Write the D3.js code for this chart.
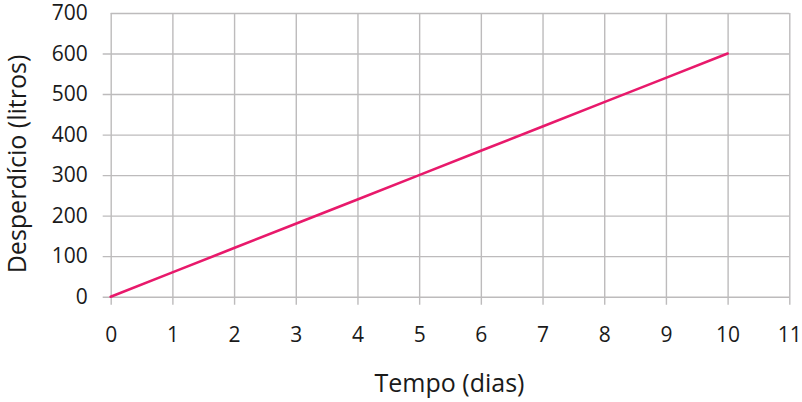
<!DOCTYPE html>
<html>
<head>
<meta charset="utf-8">
<script src="https://cdn.jsdelivr.net/npm/d3@7"></script>
<style>
  body { margin: 0; background: #fff; }
  svg { display: block; }
  text { font-family: "Open Sans", sans-serif; fill: #1a1a1a; }
</style>
</head>
<body>
<div id="chart"></div>
<script>
// data
const days = [0, 1, 2, 3, 4, 5, 6, 7, 8, 9, 10];
const waste = [0, 60, 120, 180, 240, 300, 360, 420, 480, 540, 600];
const xTicks = [0, 1, 2, 3, 4, 5, 6, 7, 8, 9, 10, 11];
const yTicks = [0, 100, 200, 300, 400, 500, 600, 700];
const xTitle = "Tempo (dias)";
const yTitle = "Desperdício (litros)";

const W = 802, H = 402;
const padL = 110.7, padR = 789.3, padT = 13, padB = 296.7;
const ext = 8; // grid lines poke out past the plot as ticks
const gridColor = "#bdbbbc";

const svg = d3.select("#chart").append("svg")
  .attr("width", W)
  .attr("height", H);

const x = d3.scaleLinear().domain([0, 11]).range([padL, padR]);
const y = d3.scaleLinear().domain([0, 700]).range([padB, padT]);

//Horizontal grid + y labels
const yAxis = svg.append("g")
  .attr("transform", `translate(${padL - ext},0)`)
  .call(d3.axisLeft(y)
    .tickValues(yTicks)
    .tickSizeInner(-(padR - padL + ext))
    .tickSizeOuter(0)
    .tickPadding(15));
yAxis.select(".domain").remove();
yAxis.selectAll(".tick line")
  .attr("stroke", gridColor)
  .attr("stroke-width", 1.4)
  .attr("x1", d => d === 700 ? ext : 0);
yAxis.selectAll(".tick text")
  .attr("font-size", "21px")
  .attr("fill", "#1a1a1a");

//Vertical grid + x labels
const xAxis = svg.append("g")
  .attr("transform", `translate(0,${padB + ext})`)
  .call(d3.axisBottom(x)
    .tickValues(xTicks)
    .tickSizeInner(-(padB - padT + ext))
    .tickSizeOuter(0)
    .tickPadding(22));
xAxis.select(".domain").remove();
xAxis.selectAll(".tick line")
  .attr("stroke", gridColor)
  .attr("stroke-width", 1.4);
xAxis.selectAll(".tick text")
  .attr("font-size", "21px")
  .attr("fill", "#1a1a1a");

//the line
const line = d3.line()
  .x((d, i) => x(days[i]))
  .y(d => y(d));

svg.append("path")
  .datum(waste)
  .attr("d", line)
  .attr("fill", "none")
  .attr("stroke", "#e8196b")
  .attr("stroke-width", 2.6)
  .attr("stroke-linecap", "round");

//axis titles
svg.append("text")
  .attr("x", (padL + padR) / 2 - 0.5)
  .attr("y", 392)
  .attr("text-anchor", "middle")
  .attr("font-size", "25px")
  .text(xTitle);

svg.append("text")
  .attr("transform", "translate(26,164) rotate(-90)")
  .attr("text-anchor", "middle")
  .attr("font-size", "25px")
  .text(yTitle);
</script>
</body>
</html>
